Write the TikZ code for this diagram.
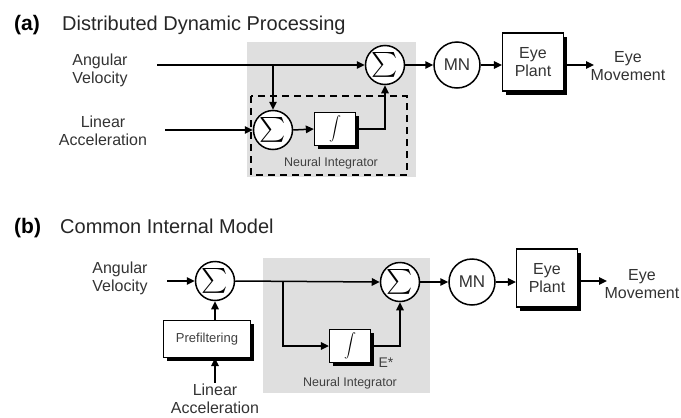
\documentclass[tikz,border=0pt]{standalone}
\usepackage{amsmath}
\usepackage{fontspec}
\setmainfont{Liberation Sans}
\usetikzlibrary{arrows.meta,shadows,calc}

\tikzset{
  sumnode/.style={draw, circle, line width=1.5pt, minimum size=39pt, inner sep=0pt,
    fill=white, font=\fontsize{25}{25}\selectfont},
  mnnode/.style={draw, circle, line width=1.5pt, minimum size=46pt, inner sep=0pt,
    fill=white, text=black!80, font=\fontsize{17}{17}\selectfont},
  blkbox/.style={draw, fill=white, line width=1.3pt, inner sep=0pt,
    drop shadow={shadow xshift=3.5pt, shadow yshift=-3.5pt, fill=black, opacity=1}},
  intbox/.style={blkbox, minimum width=41pt, minimum height=33pt, font=\fontsize{12}{12}\selectfont},
  lbl/.style={align=center, text=black!80, inner sep=1pt, font=\fontsize{16}{18}\selectfont},
  smalllbl/.style={text=black!75, inner sep=1pt, font=\fontsize{12.5}{14}\selectfont},
  tag/.style={anchor=base west, inner sep=0pt, font=\bfseries\fontsize{21}{21}\selectfont},
  title/.style={anchor=base west, inner sep=0pt, text=black!85, font=\fontsize{20}{20}\selectfont},
  sigarrow/.style={-{Triangle[length=8pt,width=7.5pt]}, line width=1.5pt},
}

\begin{document}
\begin{tikzpicture}[x=1pt, y=-1pt]
  \useasboundingbox (0,0) rectangle (681,418);

  % ============================================================
  % (a) Distributed Dynamic Processing
  % ============================================================
  \node[tag]   (tagA)   at (14,30) {(a)};
  \node[title] (titleA) at (62,30) {Distributed Dynamic Processing};

  % shaded region and dashed integrator boundary
  \fill[gray!25] (247,42) rectangle (416,177);
  \draw[line width=1.4pt, dash pattern=on 7pt off 5pt] (251,96) rectangle (407,175);

  % inputs
  \node[lbl] (angA) at (100,70)  {Angular\\Velocity};
  \node[lbl] (linA) at (103,131) {Linear\\Acceleration};
  \coordinate (angAin) at (157,65);
  \coordinate (linAin) at (165,130);

  % blocks
  \node[sumnode] (sumA1) at (385,65)  {$\sum$};
  \node[sumnode] (sumA2) at (273,130) {$\sum$};
  \node[intbox] (intA) at (335,129) {$\displaystyle\int$};
  \node[smalllbl] (niA) at (331,163) {Neural Integrator};
  \node[mnnode] (mnA) at (457,65) {MN};
  \node[blkbox, lbl, minimum width=61pt, minimum height=58pt] (plantA) at (533,62) {Eye\\Plant};
  \node[lbl] (moveA) at (628,66) {Eye\\Movement};
  \coordinate (moveAin) at (594,65);

  % connectors
  \coordinate (brA) at (sumA2 |- angAin);
  \draw[sigarrow] (angAin) -- (sumA1.west);
  \draw[sigarrow] (brA) -- (sumA2.north);
  \draw[sigarrow] (linAin) -- (sumA2.west);
  \draw[sigarrow] (sumA2.east) -- (intA.west);
  \draw[sigarrow] (intA.east) -| (sumA1.south);
  \draw[sigarrow] (sumA1.east) -- (mnA.west);
  \draw[sigarrow] (mnA.east) -- (mnA.east -| plantA.west);
  \draw[sigarrow] ($(plantA.east |- moveAin)+(3,0)$) -- (moveAin);

  % ============================================================
  % (b) Common Internal Model
  % ============================================================
  \node[tag]   (tagB)   at (14,233) {(b)};
  \node[title] (titleB) at (60,233) {Common Internal Model};

  % shaded region
  \fill[gray!25] (263,258) rectangle (430,393);

  % inputs
  \node[lbl] (angB) at (120,278) {Angular\\Velocity};
  \node[lbl] (linB) at (215,399) {Linear\\Acceleration};
  \coordinate (angBin) at (167,281);

  % blocks
  \node[sumnode] (sumB1) at (215,281) {$\sum$};
  \node[blkbox, minimum width=87pt, minimum height=37pt, text=black!75,
        font=\fontsize{13}{13}\selectfont] (preB) at (207,339) {Prefiltering};
  \node[sumnode] (sumB2) at (400,282) {$\sum$};
  \node[intbox] (intB) at (350,346) {$\displaystyle\int$};
  \node[smalllbl, font=\fontsize{14}{14}\selectfont] (estB) at (386,363) {E*};
  \node[smalllbl] (niB) at (350,383) {Neural Integrator};
  \node[mnnode] (mnB) at (472,282) {MN};
  \node[blkbox, lbl, minimum width=61pt, minimum height=58pt] (plantB) at (547,278) {Eye\\Plant};
  \node[lbl] (moveB) at (642,284) {Eye\\Movement};
  \coordinate (moveBin) at (607,281);

  % connectors
  \coordinate (brB) at (283,281);
  \draw[sigarrow] (angBin) -- (sumB1.west);
  \draw[sigarrow] (preB.north -| sumB1) -- (sumB1.south);
  \draw[sigarrow] (linB.north) -- (linB.north |- preB.south);
  \draw[sigarrow] (sumB1.east) -- (sumB2.west);
  \draw[sigarrow] (brB) |- (intB.west);
  \draw[sigarrow] (intB.east) -| (sumB2.south);
  \draw[sigarrow] (sumB2.east) -- (mnB.west);
  \draw[sigarrow] (mnB.east) -- (mnB.east -| plantB.west);
  \draw[sigarrow] ($(plantB.east |- moveBin)+(3,0)$) -- (moveBin);
\end{tikzpicture}
\end{document}
